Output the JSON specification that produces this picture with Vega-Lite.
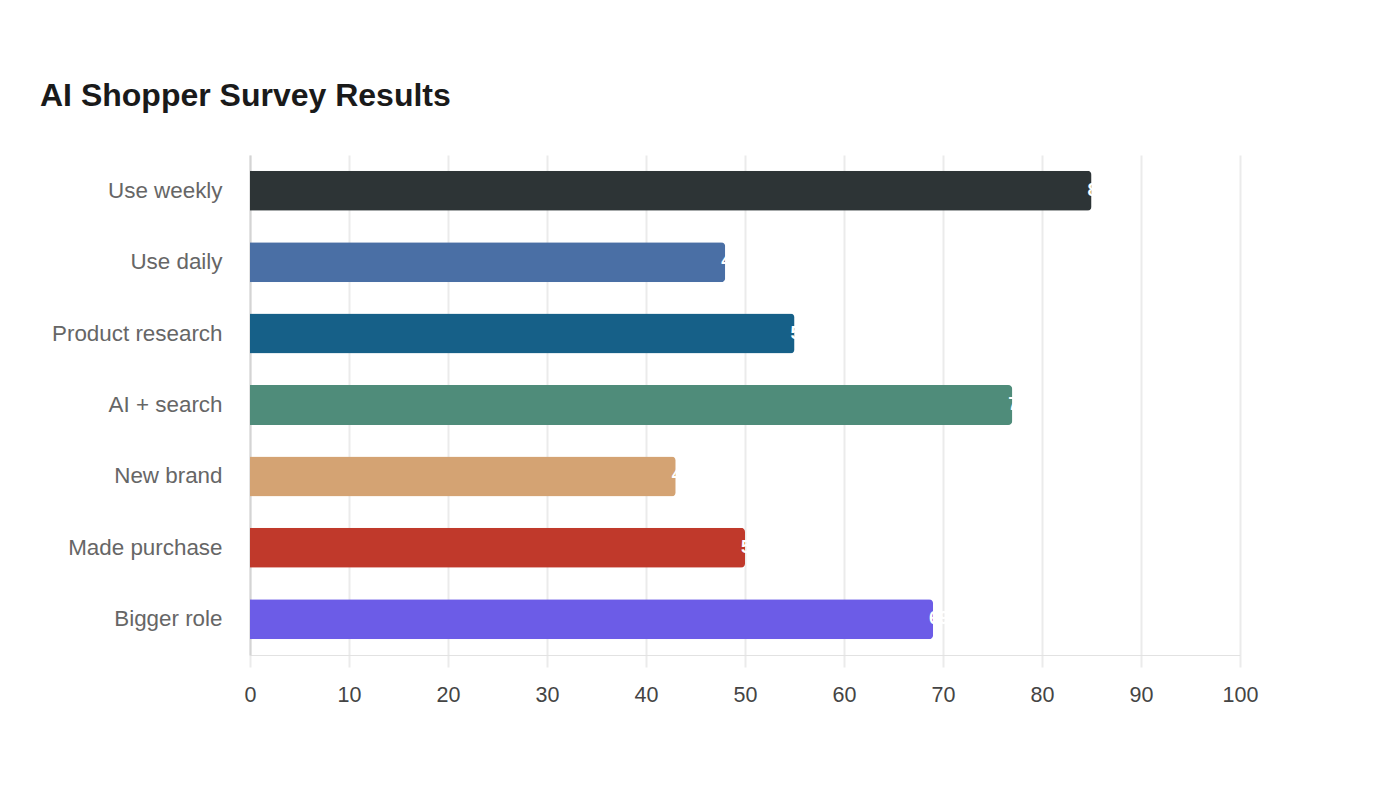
{
  "$schema": "https://vega.github.io/schema/vega-lite/v6.json",
  "width": 990,
  "height": 500,
  "autosize": {"type": "none"},
  "padding": {"left": 250, "top": 155, "right": 160, "bottom": 145},
  "background": "#ffffff",
  "title": {
    "text": "AI Shopper Survey Results",
    "anchor": "start",
    "frame": "group",
    "dx": -210,
    "offset": 42,
    "fontSize": 32,
    "fontWeight": "bold",
    "font": "Liberation Sans",
    "color": "#1a1a1a"
  },
  "config": {
    "view": {"stroke": null},
    "font": "Liberation Sans"
  },
  "data": {
    "values": [
      {"item": "Use weekly", "pct": 85, "color": "#2d3436"},
      {"item": "Use daily", "pct": 48, "color": "#4a6fa5"},
      {"item": "Product research", "pct": 55, "color": "#166088"},
      {"item": "AI + search", "pct": 77, "color": "#4f8c7a"},
      {"item": "New brand", "pct": 43, "color": "#d4a373"},
      {"item": "Made purchase", "pct": 50, "color": "#c0392b"},
      {"item": "Bigger role", "pct": 69, "color": "#6c5ce7"}
    ]
  },
  "encoding": {
    "y": {
      "field": "item",
      "type": "nominal",
      "sort": null,
      "scale": {"paddingInner": 0.44, "paddingOuter": 0.22},
      "axis": {
        "title": null,
        "ticks": false,
        "labelPadding": 28,
        "labelFontSize": 22.4,
        "labelColor": "#666666",
        "domainColor": "#d4d4d4",
        "domainWidth": 2,
        "grid": false
      }
    },
    "x": {
      "field": "pct",
      "type": "quantitative",
      "scale": {"domain": [0, 100], "nice": false},
      "axis": {
        "title": null,
        "values": [0, 10, 20, 30, 40, 50, 60, 70, 80, 90, 100],
        "labelFlush": false,
        "labelFontSize": 21.5,
        "labelColor": "#444444",
        "labelPadding": 17,
        "tickSize": 12,
        "tickColor": "#ebebeb",
        "tickWidth": 2,
        "gridColor": "#ebebeb",
        "gridWidth": 2,
        "domainColor": "#e2e2e2",
        "domainWidth": 1
      }
    }
  },
  "layer": [
    {
      "mark": {"type": "bar", "cornerRadiusEnd": 4},
      "encoding": {
        "color": {"field": "color", "type": "nominal", "scale": null, "legend": null}
      }
    },
    {
      "mark": {
        "type": "text",
        "align": "left",
        "baseline": "middle",
        "dx": -4,
        "fontSize": 18,
        "fontWeight": "bold",
        "color": "#ffffff"
      },
      "encoding": {
        "text": {"field": "pct", "type": "quantitative", "format": "d"}
      }
    }
  ]
}
